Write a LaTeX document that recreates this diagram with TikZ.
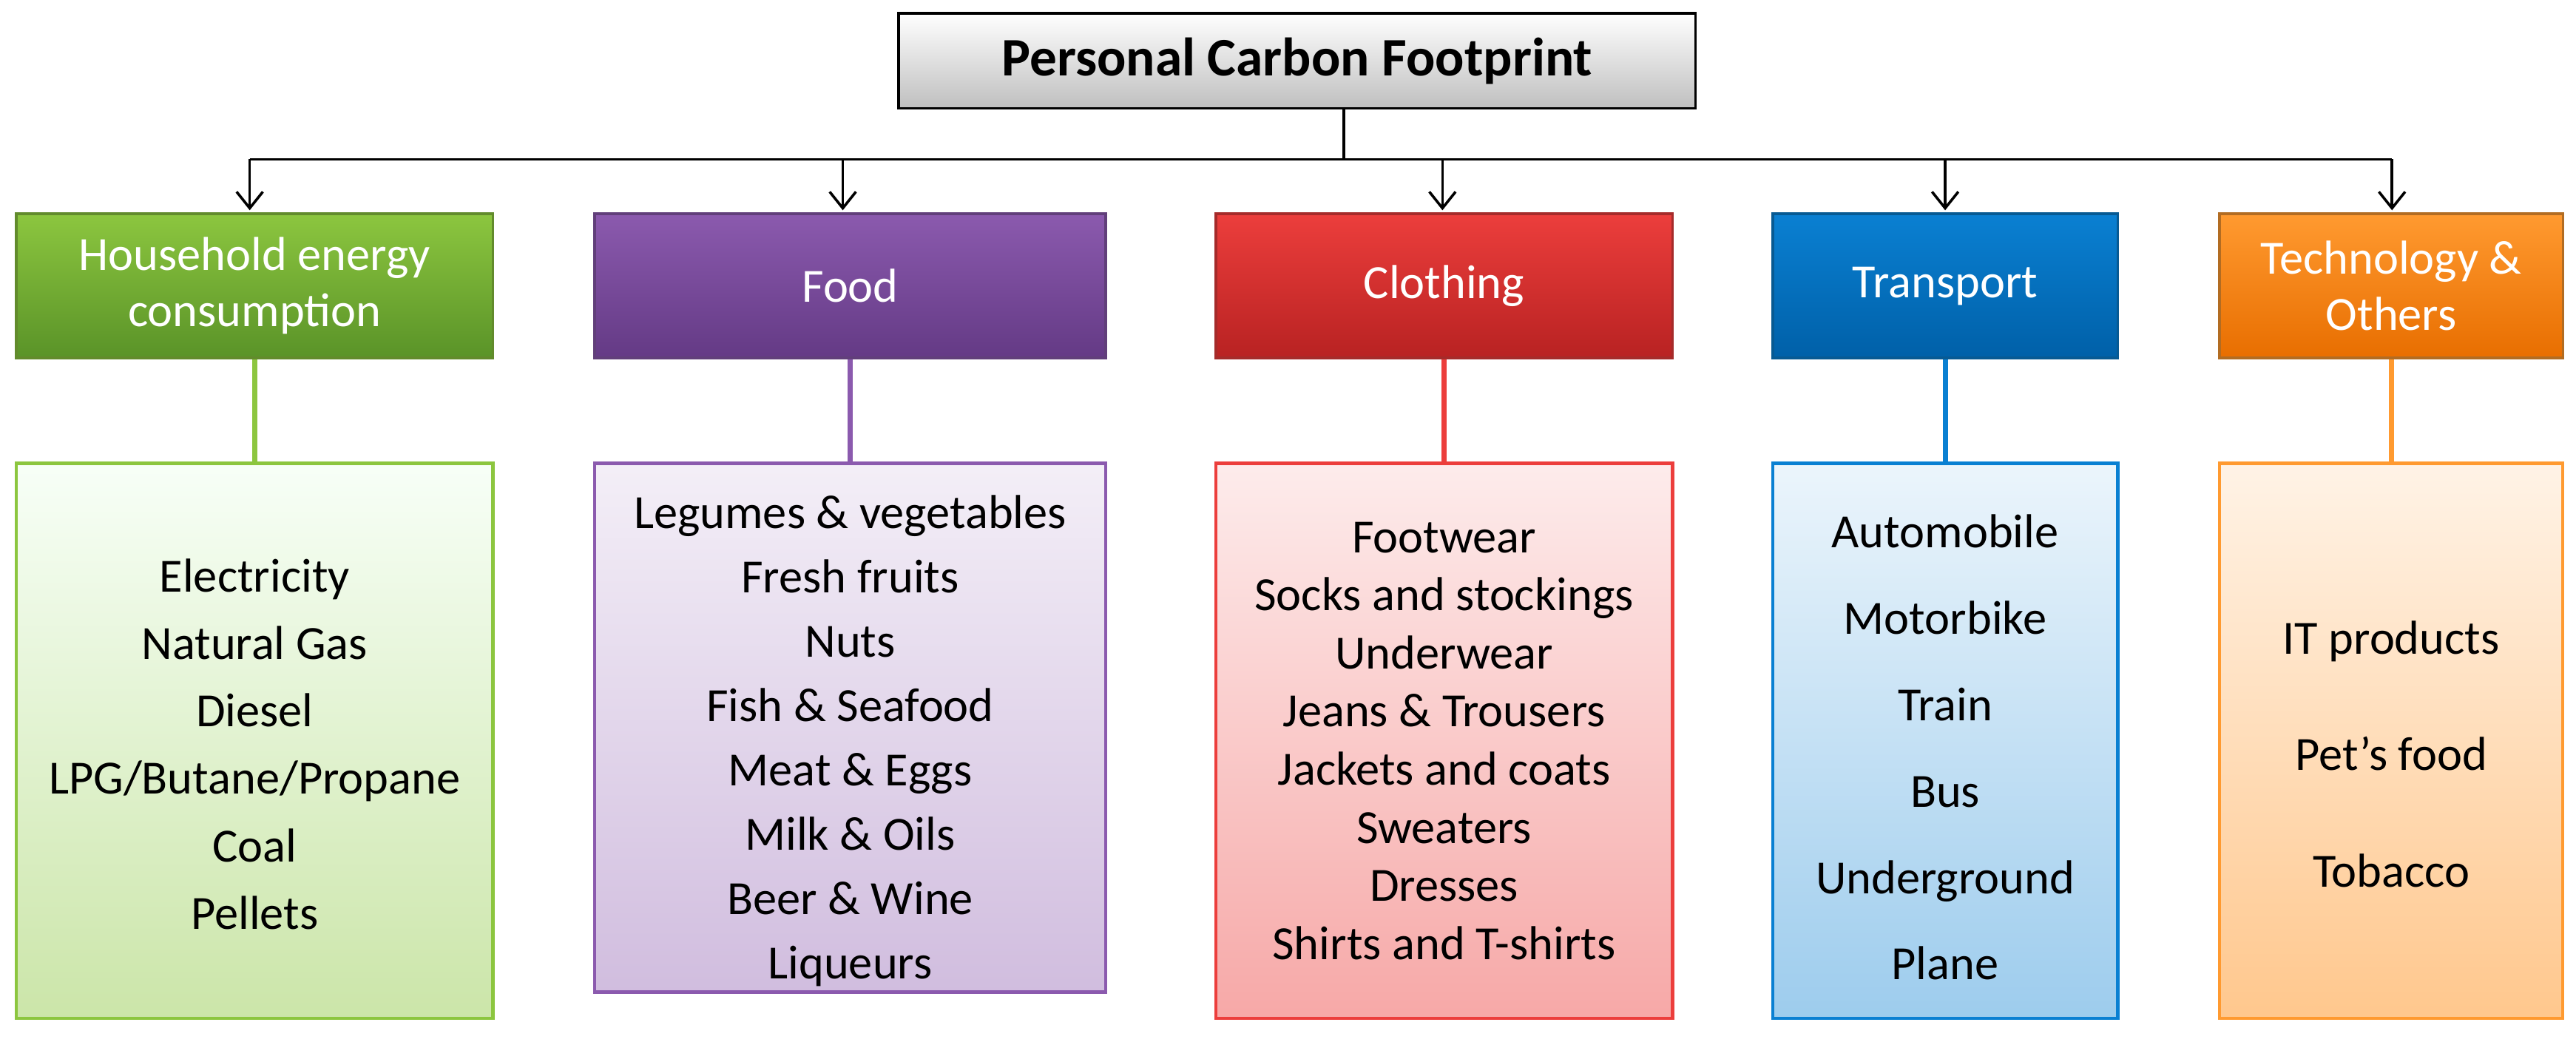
\documentclass[tikz,border=0pt]{standalone}
\usepackage{fontspec}
\setmainfont{Carlito}
\usetikzlibrary{arrows.meta}
\begin{document}
\begin{tikzpicture}[x=0.5pt,y=-0.5pt,
  hdr/.style={draw=#1!70!black,line width=0.8pt,inner sep=0pt,text=white,font=\fontsize{14.5}{17}\selectfont,align=center},
  lst/.style={line width=1pt,inner sep=0pt},
  arr/.style={-{Straight Barb[length=5pt,width=8pt]},line width=0.8pt},
  lnk/.style={line width=1.6pt}]
\useasboundingbox (0,0) rectangle (1568,634);
\definecolor{gA}{HTML}{8CC63F}\definecolor{gB}{HTML}{5A9328}
\definecolor{pA}{HTML}{8B5AAE}\definecolor{pB}{HTML}{643A85}
\definecolor{rA}{HTML}{EC3E3C}\definecolor{rB}{HTML}{B82222}
\definecolor{bA}{HTML}{0A80D2}\definecolor{bB}{HTML}{0060A8}
\definecolor{oA}{HTML}{FF9A30}\definecolor{oB}{HTML}{E86E00}
% top
\node[draw=black,line width=0.8pt,top color=white,bottom color=black!25,minimum width=242.5pt,minimum height=29pt,font=\bfseries\fontsize{16.5}{19}\selectfont] (top) at (789.5,37) {Personal Carbon Footprint};
% headers
\node[hdr=gA,top color=gA,bottom color=gB,minimum width=145pt,minimum height=44pt] (h1) at (155,174) {Household energy\\consumption};
\node[hdr=pA,top color=pA,bottom color=pB,minimum width=155.5pt,minimum height=44pt] (h2) at (517.5,174) {Food};
\node[hdr=rA,top color=rA,bottom color=rB,minimum width=139pt,minimum height=44pt] (h3) at (879,174) {Clothing};
\node[hdr=bA,top color=bA,bottom color=bB,minimum width=105pt,minimum height=44pt] (h4) at (1184,174) {Transport};
\node[hdr=oA,top color=oA,bottom color=oB,minimum width=104.5pt,minimum height=44pt] (h5) at (1455.5,174) {Technology \&\\Others};
% lists
\node[lst,draw=gA,top color=green!3!white,bottom color=gA!45!white,minimum width=145pt,minimum height=169pt] (l1) at (155,451) {};
\node[lst,draw=pA,top color=pA!10!white,bottom color=pA!40!white,minimum width=155.5pt,minimum height=161pt] (l2) at (517.5,443) {};
\node[lst,draw=rA,top color=rA!10!white,bottom color=rA!45!white,minimum width=139pt,minimum height=169pt] (l3) at (879,451) {};
\node[lst,draw=bA,top color=bA!8!white,bottom color=bA!40!white,minimum width=105pt,minimum height=169pt] (l4) at (1184,451) {};
\node[lst,draw=oA,top color=oA!12!white,bottom color=oA!55!white,minimum width=104.5pt,minimum height=169pt] (l5) at (1455.5,451) {};
% list texts
\node[align=center,font=\fontsize{14.5}{20.5}\selectfont] (t1) at (155,453) {Electricity\\Natural Gas\\Diesel\\LPG/Butane/Propane\\Coal\\Pellets};
\node[align=center,font=\fontsize{14.5}{19.6}\selectfont] (t2) at (517.5,451) {Legumes \& vegetables\\Fresh fruits\\Nuts\\Fish \& Seafood\\Meat \& Eggs\\Milk \& Oils\\Beer \& Wine\\Liqueurs};
\node[align=center,font=\fontsize{14.5}{17.7}\selectfont] (t3) at (879,451) {Footwear\\Socks and stockings\\Underwear\\Jeans \& Trousers\\Jackets and coats\\Sweaters\\Dresses\\Shirts and T-shirts};
\node[align=center,font=\fontsize{14.5}{26.3}\selectfont] (t4) at (1184,455) {Automobile\\Motorbike\\Train\\Bus\\Underground\\Plane};
\node[align=center,font=\fontsize{14.5}{35.5}\selectfont] (t5) at (1455.5,459) {IT products\\Pet’s food\\Tobacco};
% links
\draw[lnk,gA] (h1.south) -- (l1.north);
\draw[lnk,pA] (h2.south) -- (l2.north);
\draw[lnk,rA] (h3.south) -- (l3.north);
\draw[lnk,bA] (h4.south) -- (l4.north);
\draw[lnk,oA] (h5.south) -- (l5.north);
% tree
\coordinate (j) at (818,97);
\coordinate (jl) at (152,97);
\coordinate (jr) at (1456,97);
\draw[line width=0.8pt] (top.south -| j) -- (j);
\draw[line width=0.8pt] (jl) -- (jr);
\foreach \h/\x in {h1/152,h2/513,h3/878,h4/1184,h5/1456}{
  \coordinate (a\h) at (\x,97);
  \draw[arr] (a\h) -- (\x,128);
}
\end{tikzpicture}
\end{document}
